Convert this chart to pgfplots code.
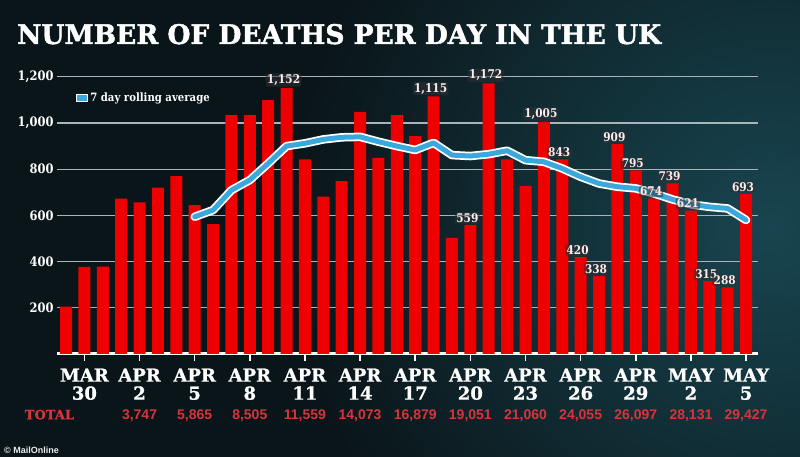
\documentclass[border=0pt]{standalone}
\usepackage{pgfplots}
\pgfplotsset{compat=1.18}
\usepackage{pgfplotstable}
\usepackage{fontspec}
\setmainfont{DejaVu Serif}
\newfontfamily\slab{DejaVu Serif}[FakeStretch=0.88]
\newfontfamily\heavy{DejaVu Serif}[FakeBold=1.6, FakeStretch=0.98]
\newfontfamily\heavyx{DejaVu Serif}[FakeBold=1.0]
\newfontfamily\lsans{Liberation Sans}
\definecolor{bg}{HTML}{0A1519}
\definecolor{bgteal}{HTML}{184550}
\definecolor{barred}{HTML}{EE0000}
\definecolor{lineblue}{HTML}{3AA8DC}
\definecolor{totred}{HTML}{D8343C}
\definecolor{gridc}{HTML}{AAB4B8}
\definecolor{lblbox}{HTML}{2C3236}

\pgfplotstableread{
x y
0 205
1 377
2 378
3 673
4 656
5 720
6 770
7 645
8 562
9 1034
10 1034
11 1099
12 1152
13 842
14 681
15 748
16 1048
17 849
18 1034
19 943
20 1115
21 503
22 559
23 1172
24 842
25 727
26 1005
27 843
28 420
29 338
30 909
31 795
32 674
33 739
34 621
35 315
36 288
37 693
}\deaths

\pgfplotstableread{
x y
7 594
8 623
9 709
10 753
11 825
12 900
13 912
14 929
15 938
16 940
17 919
18 900
19 883
20 914
21 861
22 857
23 865
24 880
25 839
26 832
27 803
28 767
29 738
30 724
31 717
32 695
33 669
34 648
35 637
36 630
37 580
}\rolling

\pgfplotstableread{
x y lab
12 1152 1,152
20 1115 1,115
22 559 559
23 1172 1,172
26 1005 1,005
27 843 843
28 420 420
29 338 338
30 909 909
31 795 795
32 674 674
33 739 739
34 621 621
35 315 315
36 288 288
37 693 693
}\labels

\begin{document}
\begin{tikzpicture}[x=1pt,y=1pt]
\useasboundingbox (0,0) rectangle (800,457);
\fill[bg] (0,0) rectangle (800,457);
\begin{scope}
\clip (0,0) rectangle (800,457);
\shade[inner color=bgteal, outer color=bg] (770,230) circle (480);
\end{scope}

\node[anchor=base west, inner sep=0pt, text=white, font=\heavy\fontsize{27}{27}\selectfont\bfseries] at (17,413) {NUMBER OF DEATHS PER DAY IN THE UK};

\begin{axis}[
  at={(57pt,103pt)}, anchor=south west,
  scale only axis, width=701pt, height=288.75pt,
  xmin=-0.49, xmax=37.65, ymin=0, ymax=1250,
  clip=false,
  axis x line=bottom, axis y line=left,
  axis line style={-},
  x axis line style={white, line width=3pt},
  y axis line style={draw=none},
  xtick={1,4,...,37},
  xticklabels={{MAR\\30},{APR\\2},{APR\\5},{APR\\8},{APR\\11},{APR\\14},{APR\\17},{APR\\20},{APR\\23},{APR\\26},{APR\\29},{MAY\\2},{MAY\\5}},
  xticklabel style={align=center, text=white, yshift=-4pt, font=\heavyx\fontsize{18}{18}\selectfont\bfseries},
  xtick align=outside,
  major tick length=7pt,
  xtick style={white, line width=1.5pt},
  ytick={200,400,...,1200},
  yticklabels={200,400,600,800,{1,000},{1,200}},
  ytick align=inside,
  ytick style={draw=none},
  yticklabel style={text=white, font=\slab\fontsize{13}{13}\selectfont\bfseries},
  ymajorgrids,
  grid style={gridc, line width=1.2pt},
  bar width=12pt,
  legend style={at={(axis description cs:0.027,0.887)}, anchor=west, draw=none, fill=none, inner sep=0pt, text=white, font=\slab\fontsize{11.5}{11.5}\selectfont\bfseries},
  legend image code/.code={\draw[white, line width=1.2pt, fill=lineblue] (0pt,-3.5pt) rectangle (11pt,3.5pt);},
]
\addplot[ybar, fill=barred, draw=none, bar shift=0pt, forget plot] table[x=x,y=y]{\deaths};
\addplot[white, line width=8.5pt, line join=round, line cap=round, forget plot] table[x=x,y=y]{\rolling};
\addplot[lineblue, line width=5pt, line join=round, line cap=round] table[x=x,y=y]{\rolling};
\addlegendentry{7 day rolling average}
\addplot[draw=none, mark=none, forget plot, nodes near coords, point meta=explicit symbolic,
  nodes near coords style={anchor=south, yshift=1pt, xshift=-3pt, text=white!92!red, fill=lblbox, fill opacity=0.55, text opacity=1, rounded corners=2pt, inner sep=1.2pt, font=\slab\fontsize{12}{12}\selectfont\bfseries}]
  table[x=x,y=y,meta=lab]{\labels};

\begin{scope}[every node/.style={anchor=base, text=totred, font=\lsans\fontsize{14}{14}\selectfont\bfseries}]
\node[font=\heavyx\fontsize{13}{13}\selectfont\bfseries] at (axis cs:-0.9,-283) {TOTAL};
\node at (axis cs:4,-283) {3,747};
\node at (axis cs:7,-283) {5,865};
\node at (axis cs:10,-283) {8,505};
\node at (axis cs:13,-283) {11,559};
\node at (axis cs:16,-283) {14,073};
\node at (axis cs:19,-283) {16,879};
\node at (axis cs:22,-283) {19,051};
\node at (axis cs:25,-283) {21,060};
\node at (axis cs:28,-283) {24,055};
\node at (axis cs:31,-283) {26,097};
\node at (axis cs:34,-283) {28,131};
\node at (axis cs:37,-283) {29,427};
\end{scope}
\end{axis}

\node[anchor=west, inner sep=0pt, text=white!85!gray, font=\lsans\fontsize{9}{9}\selectfont\bfseries] at (4,7) {\textcopyright\ MailOnline};
\end{tikzpicture}
\end{document}
